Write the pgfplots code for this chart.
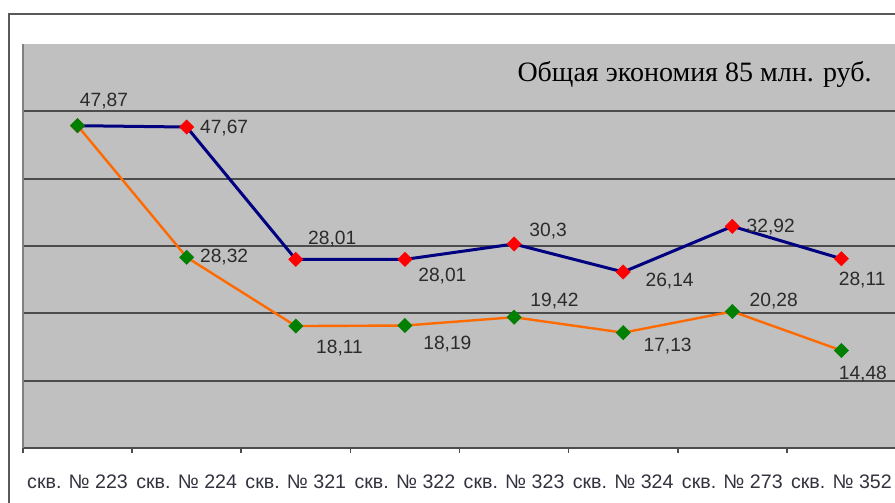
\documentclass[border=0pt]{standalone}
\usepackage{fontspec}
\setmainfont{Liberation Sans}
\newfontfamily\seriffont{Liberation Serif}
\usepackage{pgfplots}
\pgfplotsset{compat=1.18}
\definecolor{plotbg}{HTML}{C0C0C0}
\definecolor{navyc}{HTML}{000080}
\definecolor{orng}{HTML}{FF6A00}
\definecolor{grn}{HTML}{008000}
\definecolor{lbl}{HTML}{2B2B2B}
\definecolor{tlbl}{HTML}{33333F}
\newcommand{\lab}[5]{\node[anchor=west, inner sep=0pt, text=lbl, font=\fontsize{9.6}{10}\selectfont, xshift=#3pt, yshift=#4pt] at (axis cs:#1,#2) {#5};}
\begin{document}
\begin{tikzpicture}[x=1pt,y=1pt]
\draw[black!65, line width=1pt] (4.5,-10) -- (4.5,244.5) -- (470,244.5);
\begin{axis}[
  at={(11.5pt,27.5pt)}, anchor=south west, scale only axis,
  width=436.5pt, height=202pt,
  xmin=-0.5, xmax=7.5, ymin=0, ymax=60,
  axis background/.style={fill=plotbg},
  axis x line=bottom, axis y line=left,
  x axis line style={-, draw=black!70, line width=1pt},
  y axis line style={-, draw=gray, line width=0.6pt},
  ytick={10,20,30,40,50}, yticklabels={}, ytick style={draw=none},
  ymajorgrids, grid style={draw=black!70, line width=1pt},
  xtick={0,...,7},
  xticklabels={скв. № 223, скв. № 224, скв. № 321, скв. № 322, скв. № 323, скв. № 324, скв. № 273, скв. № 352},
  minor xtick={-0.5,0.5,...,7.5},
  major x tick style={draw=none},
  minor tick length=2.5pt, major tick length=0pt, tick align=outside,
  minor x tick style={draw=black!70, line width=0.8pt},
  xticklabel style={font=\fontsize{9.8}{10}\selectfont, text=tlbl, yshift=-10pt},
  clip=false,
]
\addplot[navyc, line width=1.5pt, mark=square*, mark size=2.5pt, mark options={rotate=45, draw=red, fill=red, line width=0.3pt, solid}]
  coordinates {(0,47.87)(1,47.67)(2,28.01)(3,28.01)(4,30.3)(5,26.14)(6,32.92)(7,28.11)};
\addplot[orng, line width=1.2pt, mark=square*, mark size=2.5pt, mark options={rotate=45, draw=grn, fill=grn, line width=0.3pt, solid}]
  coordinates {(0,47.87)(1,28.32)(2,18.11)(3,18.19)(4,19.42)(5,17.13)(6,20.28)(7,14.48)};
\lab{0}{47.87}{1}{12.5}{47,87}
\lab{1}{47.67}{6.5}{-0.5}{47,67}
\lab{2}{28.01}{6}{10}{28,01}
\lab{3}{28.01}{6.5}{-8.5}{28,01}
\lab{4}{30.3}{7.5}{6.5}{30,3}
\lab{5}{26.14}{11}{-4.5}{26,14}
\lab{6}{32.92}{7}{-0.5}{32,92}
\lab{7}{28.11}{-1.5}{-10.5}{28,11}
\lab{1}{28.32}{6.5}{0}{28,32}
\lab{2}{18.11}{10}{-11}{18,11}
\lab{3}{18.19}{9}{-9.5}{18,19}
\lab{4}{19.42}{8}{8}{19,42}
\lab{5}{17.13}{10}{-6.5}{17,13}
\lab{6}{20.28}{8.5}{5}{20,28}
\lab{7}{14.48}{-1.5}{-12}{14,48}
\end{axis}
\node[anchor=base east, inner sep=0pt, font=\seriffont\fontsize{14}{15}\selectfont] at (436,210.5) {Общая экономия 85 млн. руб.};
\pgfresetboundingbox
\useasboundingbox (0,0) rectangle (447.5,251.5);
\end{tikzpicture}
\end{document}
